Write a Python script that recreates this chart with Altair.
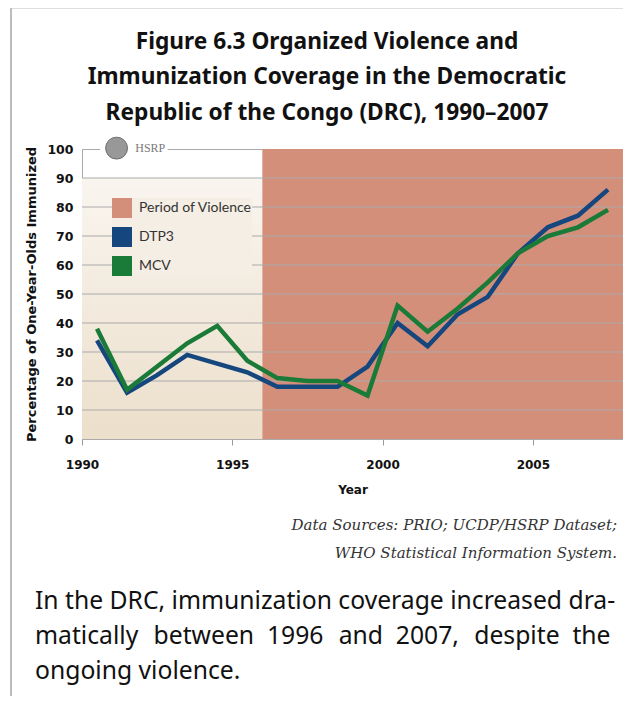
import altair as alt
import pandas as pd

# ---------------- data ----------------
years = list(range(1990, 2008))
dtp3 = [34, 16, 22, 29, 26, 23, 18, 18, 18, 25, 40, 32, 43, 49, 64, 73, 77, 86]
mcv = [38, 17, 25, 33, 39, 27, 21, 20, 20, 15, 46, 37, 45, 54, 64, 70, 73, 79]
series_names = ["Period of Violence", "DTP3", "MCV"]
series_colors = ["#d48f7b", "#15467e", "#1a7a38"]
violence_start, violence_end = 1996, 2008
x_ticks = [1990, 1995, 2000, 2005]
y_ticks = [0, 10, 20, 30, 40, 50, 60, 70, 80, 90, 100]

title_lines = [
    "Figure 6.3 Organized Violence and",
    "Immunization Coverage in the Democratic",
    "Republic of the Congo (DRC), 1990\u20132007",
]
source_lines = [
    "Data Sources: PRIO; UCDP/HSRP Dataset;",
    "WHO Statistical Information System.",
]
G1 = "\u00a0\u200a "
G2 = "\u00a0 "
caption_lines = [
    "In the DRC, immunization coverage increased dra-",
    "matically" + G1 + "between" + G2 + "1996" + G1 + "and" + G2 + "2007," + G1 + "despite" + G2 + "the",
    "ongoing violence.",
]

rows = []
for y, d, m in zip(years, dtp3, mcv):
    rows.append({"t": y + 0.5, "value": d, "series": "DTP3"})
    rows.append({"t": y + 0.5, "value": m, "series": "MCV"})
lines_df = pd.DataFrame(rows)

W, H = 541, 290
xscale = alt.Scale(domain=[1990, 2008], nice=False, zero=False)
yscale = alt.Scale(domain=[0, 100], nice=False)
cscale = alt.Scale(domain=series_names, range=series_colors)

x_axis = alt.Axis(values=x_ticks, format="d", title="Year",
                  grid=False, tickSize=6, tickColor="#999", labelFlush=False,
                  domainColor="#aaa", labelPadding=14,
                  labelFont="DejaVu Sans", labelFontWeight="bold",
                  labelFontSize=12, labelColor="#111",
                  titleFont="DejaVu Sans", titleFontWeight="bold",
                  titleFontSize=12, titleColor="#111", titlePadding=14)
y_axis = alt.Axis(values=y_ticks, title="Percentage of One-Year-Olds Immunized",
                  grid=False, labelOverlap=False,
                  tickSize=0, domainColor="#aaa", labelPadding=9,
                  labelFont="DejaVu Sans", labelFontWeight="bold",
                  labelFontSize=12.5, labelColor="#111",
                  titleFont="DejaVu Sans", titleFontWeight="bold",
                  titleFontSize=13, titleColor="#111", titlePadding=8)


def X(field):
    return alt.X(field, scale=xscale, axis=x_axis)


def Y(field):
    return alt.Y(field, scale=yscale, axis=y_axis)


one = alt.Data(values=[{}])

# background: pre-violence gradient
pre_df = pd.DataFrame([{"x": 1990, "x2": violence_start, "y": 0, "y2": 90}])
grad = alt.Gradient(
    gradient="linear",
    stops=[alt.GradientStop(color="#f9f5ef", offset=0),
           alt.GradientStop(color="#ecdfcb", offset=1)],
    x1=0, x2=0, y1=0, y2=1,
)
pre_rect = alt.Chart(pre_df).mark_rect(fill=grad).encode(
    x=X("x:Q"), x2="x2:Q", y=Y("y:Q"), y2="y2:Q")

vio_df = pd.DataFrame([{"x": violence_start, "x2": violence_end, "y": 0, "y2": 100}])
vio_rect = alt.Chart(vio_df).mark_rect(fill=series_colors[0]).encode(
    x=X("x:Q"), x2="x2:Q", y=Y("y:Q"), y2="y2:Q")

# gridlines drawn over the background rects
grid_df = pd.DataFrame({"g": y_ticks[1:-1]})
grid = alt.Chart(grid_df).mark_rule(color="#aaaaaa", strokeWidth=1).encode(
    y=Y("g:Q"))

lines = alt.Chart(lines_df).mark_line(strokeWidth=4.5, strokeJoin="miter").encode(
    x=X("t:Q"), y=Y("value:Q"),
    color=alt.Color("series:N", scale=cscale, legend=None),
)

# legend carrier: zero-size rects, so the legend shows filled squares
leg_df = pd.DataFrame({"series": series_names})
leg = alt.Chart(leg_df).mark_rect().encode(
    x=alt.datum(1990, scale=xscale, axis=x_axis), x2=alt.datum(1990),
    y=alt.datum(0, scale=yscale, axis=y_axis), y2=alt.datum(0),
    color=alt.Color(
        "series:N", scale=cscale,
        legend=alt.Legend(
            orient="none", legendX=30, legendY=49, title=None,
            symbolType="square", symbolSize=400, symbolStrokeWidth=0,
            rowPadding=9, labelOffset=7,
            labelFont="Lato", labelFontSize=14, labelColor="#333",
            fillColor="#f5eee4", padding=0,
        ),
    ),
)

# HSRP logo on the top line
logo_bg = alt.Chart(pd.DataFrame([{"x": 1990.6, "x2": 1992.85, "y": 97, "y2": 103}])).mark_rect(
    fill="white").encode(x=X("x:Q"), x2="x2:Q", y=Y("y:Q"), y2="y2:Q")
globe = alt.Chart(pd.DataFrame([{"x": 1991.15, "y": 100.3}])).mark_point(
    filled=True, shape="circle", size=480, color="#989898", opacity=1,
    stroke="#6f6f6f", strokeWidth=1).encode(x=X("x:Q"), y=Y("y:Q"))
hsrp = alt.Chart(pd.DataFrame([{"x": 1992.27, "y": 100.2}])).mark_text(
    text="HSRP", font="Liberation Serif", fontSize=12, color="#7a7a7a",
    align="center", baseline="middle").encode(x=X("x:Q"), y=Y("y:Q"))

# titles / texts
layers = [pre_rect, vio_rect, grid, lines, leg, logo_bg, globe, hsrp]
for line, yy in zip(title_lines, [-107, -72, -36]):
    layers.append(alt.Chart(one).mark_text(
        text=line, font="Noto Sans", fontWeight="bold", fontSize=22.7,
        color="#111", align="center", baseline="middle").encode(
        x=alt.value(245), y=alt.value(yy)))
for line, yy in zip(source_lines, [376, 404]):
    layers.append(alt.Chart(one).mark_text(
        text=line, font="DejaVu Serif", fontStyle="italic", fontSize=15,
        color="#333", align="right", baseline="middle").encode(
        x=alt.value(535), y=alt.value(yy)))
for line, yy in zip(caption_lines, [453, 488, 523]):
    layers.append(alt.Chart(one).mark_text(
        text=line, font="Noto Sans", fontSize=24.7,
        color="#111", align="left", baseline="middle").encode(
        x=alt.value(-47), y=alt.value(yy)))

# frame
layers.append(alt.Chart(one).mark_rule(color="#bdbdbd", strokeWidth=2).encode(
    x=alt.value(-72), x2=alt.value(549), y=alt.value(-141.5)))
layers.append(alt.Chart(one).mark_rule(color="#bdbdbd", strokeWidth=2).encode(
    x=alt.value(-71), y=alt.value(-142), y2=alt.value(560)))

chart = alt.layer(*layers).resolve_scale(color="independent").properties(
    width=W, height=H,
    autosize=alt.AutoSizeParams(type="none"),
    padding={"left": 74, "top": 141, "right": 0, "bottom": 257},
    background="white",
).configure_view(stroke="#aaaaaa", strokeWidth=1)

chart.save("out.html", embed_options={"renderer": "svg", "actions": False})
